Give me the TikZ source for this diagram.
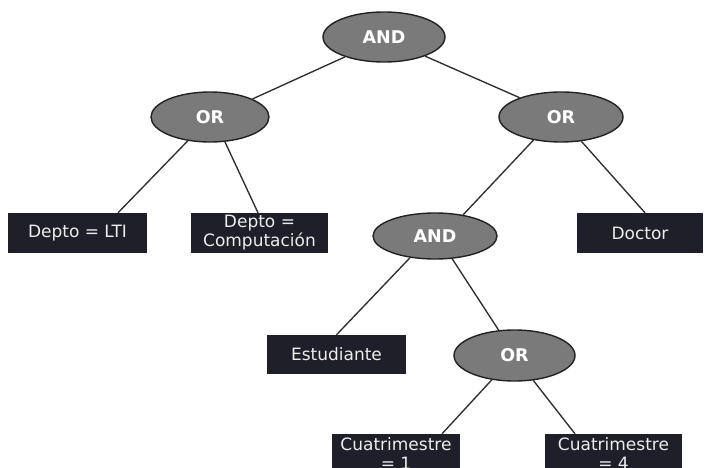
\documentclass[tikz,border=0pt]{standalone}
\usepackage{fontspec}
\setmainfont{DejaVu Sans}
\usetikzlibrary{shapes.geometric}

\definecolor{gatefill}{HTML}{7A7A7A}
\definecolor{gateline}{HTML}{222222}
\definecolor{leaffill}{HTML}{1F1F29}
\definecolor{leaftext}{HTML}{EDEDED}
\definecolor{wirec}{HTML}{2E2E2E}

\tikzset{
  gate/.style={ellipse, draw=gateline, fill=gatefill, line width=1.4pt,
    minimum width=122pt, minimum height=50pt, inner sep=0pt,
    text=white, font=\fontsize{17.5}{20}\selectfont\bfseries},
  leaf/.style={rectangle, fill=leaffill, text=leaftext, inner sep=0pt,
    align=center, minimum height=40pt,
    font=\fontsize{17}{19}\selectfont},
  wire/.style={draw=wirec, line width=1.35pt}
}

\begin{document}
\begin{tikzpicture}[x=1pt, y=-1pt]
  \useasboundingbox (0,0) rectangle (704,468);
  \fill[white] (0,0) rectangle (704,468);
  \clip (0,0) rectangle (704,468);

  % logical gates
  \node[gate] (andT) at (384,37) {AND};
  \node[gate, minimum width=118pt] (orL) at (210,117) {OR};
  \node[gate, minimum width=124pt] (orR) at (561,117) {OR};
  \node[gate, minimum width=124pt, minimum height=46pt] (andM) at (435,236) {AND};
  \node[gate, minimum width=121pt, minimum height=51pt] (orB) at (514.5,355.5) {OR};

  % conditions
  \node[leaf, minimum width=139pt] (lti) at (77.5,233) {Depto = LTI};
  \node[leaf, minimum width=137pt] (comp) at (259.5,233) {Depto =\\Computación};
  \node[leaf, minimum width=126pt] (doctor) at (640,233) {Doctor};
  \node[leaf, minimum width=139pt, minimum height=39pt] (estud) at (336.5,354.5) {Estudiante};
  \node[leaf, minimum width=128pt] (cuat1) at (396,454) {Cuatrimestre\\= 1};
  \node[leaf, minimum width=137pt] (cuat4) at (613.5,454) {Cuatrimestre\\= 4};

  % tree edges
  \draw[wire] (andT.207.6) -- (orL.23.6);
  \draw[wire] (andT.335.6) -- (orR.155);
  \draw[wire] (orL.227.4) -- ([xshift=40.5pt]lti.north);
  \draw[wire] (orL.301.6) -- ([xshift=-1.5pt]comp.north);
  \draw[wire] (orR.220.8) -- (andM.37.9);
  \draw[wire] (orR.310.2) -- ([xshift=5pt]doctor.north);
  \draw[wire] (andM.221.3) -- (estud.north);
  \draw[wire] (andM.307.7) -- (orB.122.9);
  \draw[wire] (orB.227.2) -- ([xshift=46pt]cuat1.north);
  \draw[wire] (orB.307.7) -- ([xshift=-38.5pt]cuat4.north);
\end{tikzpicture}
\end{document}
